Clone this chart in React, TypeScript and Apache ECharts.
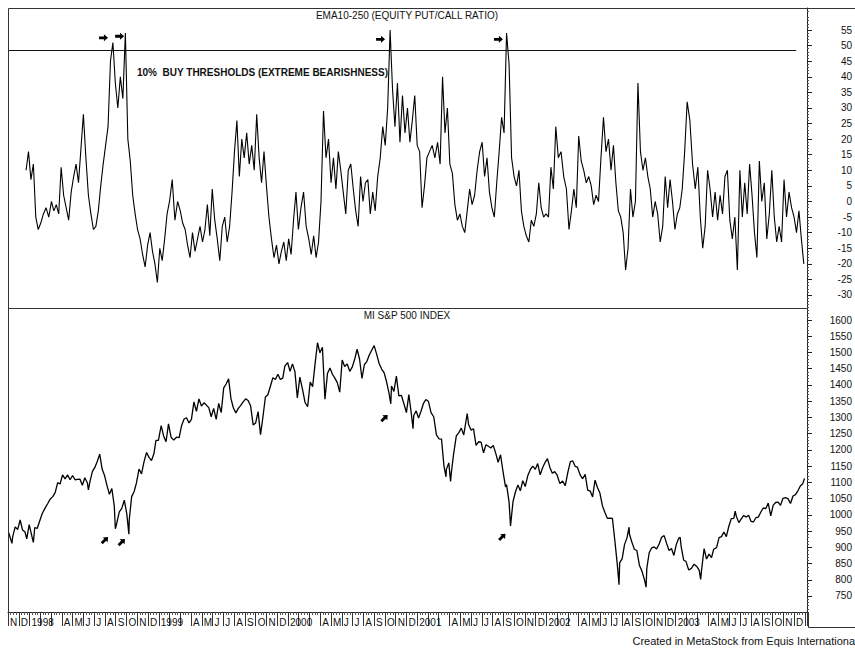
import React, { useEffect, useRef } from "react";
import * as echarts from "echarts";

// ---------- axis / label data ----------
const MONTH_LETTERS = ["J", "F", "M", "A", "M", "J", "J", "A", "S", "O", "N", "D"];
const BASE_YEAR = 1997; // month index 0 = Jan 1997
const X_MIN_MONTH = 10; // Nov 1997
const X_MAX_MONTH = 84.2; // mid Jan 2004
const topTickValues = [-30, -25, -20, -15, -10, -5, 0, 5, 10, 15, 20, 25, 30, 35, 40, 45, 50, 55];
const bottomTickValues = [750, 800, 850, 900, 950, 1000, 1050, 1100, 1150, 1200, 1250, 1300, 1350, 1400, 1450, 1500, 1550, 1600];
const TOP_MIN = -34.17;
const TOP_MAX = 62.06;
const BOT_MIN = 700.7;
const BOT_MAX = 1637;
const BUY_THRESHOLD = 48.5;

// ---------- texts ----------
const topTitle = "EMA10-250 (EQUITY PUT/CALL RATIO)";
const thresholdText = "10%  BUY THRESHOLDS (EXTREME BEARISHNESS)";
const bottomTitle = "MI S&P 500 INDEX";
const creditText = "Created in MetaStock from Equis Internationa";

// ---------- EMA10-250 put/call indicator, weekly readings from 1997-12-22 ----------
const pcrStartDate = "1997-12-22";
const pcrWeekly = [
  10, 16, 7, 12, -5, -9, -7, -4, -2, -5, 0, -3, -1, -4, 11, 2,
  -2, -6, 3, 8, 12, 6, 17, 28, 14, 2, -4, -9, -8, -3, 5, 12,
  18, 24, 45, 51, 38, 30, 40, 33, 54, 20, 13, 2, -4, -9, -12, -17,
  -21, -14, -10, -16, -20, -26, -15, -19, -12, -4, 0, 7, -6, 0, -3, -7,
  -9, -14, -18, -10, -16, -12, -8, -13, -9, -1, -11, 4, -6, -12, -19, -8,
  -5, -13, -8, 3, 16, 26, 8, 20, 14, 22, 12, 18, 10, 28, 14, 6,
  16, 5, -5, -12, -18, -14, -20, -16, -13, -19, -12, -17, -6, 3, -9, -2,
  3, -8, -12, -17, -11, -18, -13, 0, 29, 14, 20, 6, 14, 4, 16, 10,
  3, -4, 10, 12, 4, -3, -8, 8, 0, 6, 7, -4, 3, -3, 8, 14,
  24, 18, 30, 55, 36, 24, 38, 19, 34, 22, 30, 19, 26, 34, 18, 16,
  -2, 5, 14, 16, 18, 14, 19, 12, 40, 22, 30, 12, 9, -1, -6, -4,
  -8, -10, -3, 4, -1, 2, 10, 16, 19, 8, 14, 3, -2, -5, 6, 16,
  27, 22, 54, 44, 14, 8, 5, 10, -3, -8, -11, -13, -6, -8, -4, 6,
  -2, -5, -4, -5, 11, 4, 24, 14, 16, 8, 4, -9, -3, 4, -2, 21,
  13, 10, 6, 8, 5, -1, 2, 0, 14, 27, 16, 20, 10, 18, 6, -3,
  -5, -10, -22, -15, 4, -5, 0, 38, 16, 10, 14, 8, 4, -5, 0, -4,
  -13, -8, 8, -2, 7, 0, -9, -4, -2, 4, 16, 32, 26, 12, 4, 11,
  -5, -15, -8, 10, 4, -5, 3, -6, 2, -4, 8, 10, -6, -12, -5, -22,
  10, -5, 6, -4, 12, 2, -10, -18, 13, 0, 6, -12, -4, 10, -5, -13,
  -8, -13, 7, -5, 3, -2, -5, -10, -3, -12, -20,
];

// ---------- S&P 500 index readings [date, value] ----------
const sp1997: [string, number][] = [
  ["1997-11-03", 945], ["1997-11-07", 930], ["1997-11-12", 912], ["1997-11-14", 932], ["1997-11-21", 963], ["1997-11-28", 955],
  ["1997-12-05", 984], ["1997-12-12", 953], ["1997-12-19", 947], ["1997-12-24", 926], ["1997-12-31", 970],
];
const sp1998: [string, number][] = [
  ["1998-01-09", 928], ["1998-01-12", 915], ["1998-01-16", 961], ["1998-01-23", 958], ["1998-01-30", 980],
  ["1998-02-06", 1004], ["1998-02-13", 1020], ["1998-02-20", 1034], ["1998-02-27", 1049],
  ["1998-03-06", 1056], ["1998-03-13", 1069], ["1998-03-20", 1099], ["1998-03-27", 1095],
  ["1998-04-03", 1123], ["1998-04-10", 1111], ["1998-04-17", 1123], ["1998-04-24", 1108],
  ["1998-05-01", 1121], ["1998-05-08", 1108], ["1998-05-15", 1109], ["1998-05-22", 1110], ["1998-05-29", 1091],
  ["1998-06-05", 1114], ["1998-06-12", 1099], ["1998-06-15", 1077], ["1998-06-19", 1101], ["1998-06-26", 1133],
  ["1998-07-03", 1146], ["1998-07-10", 1164], ["1998-07-17", 1187], ["1998-07-24", 1141], ["1998-07-31", 1121],
  ["1998-08-07", 1090], ["1998-08-14", 1063], ["1998-08-21", 1081], ["1998-08-28", 1027], ["1998-08-31", 957],
  ["1998-09-04", 974], ["1998-09-11", 1009], ["1998-09-18", 1020], ["1998-09-25", 1045],
  ["1998-10-02", 1003], ["1998-10-08", 940], ["1998-10-09", 984], ["1998-10-16", 1056], ["1998-10-23", 1071], ["1998-10-30", 1099],
  ["1998-11-06", 1141], ["1998-11-13", 1126], ["1998-11-20", 1164], ["1998-11-27", 1192],
  ["1998-12-04", 1177], ["1998-12-11", 1167], ["1998-12-18", 1188], ["1998-12-24", 1229], ["1998-12-31", 1229],
];
const sp1999: [string, number][] = [
  ["1999-01-08", 1275], ["1999-01-15", 1243], ["1999-01-22", 1225], ["1999-01-29", 1280],
  ["1999-02-05", 1239], ["1999-02-12", 1230], ["1999-02-19", 1239], ["1999-02-26", 1238],
  ["1999-03-05", 1276], ["1999-03-12", 1295], ["1999-03-19", 1299], ["1999-03-26", 1283],
  ["1999-04-02", 1294], ["1999-04-09", 1348], ["1999-04-16", 1319], ["1999-04-23", 1357], ["1999-04-30", 1335],
  ["1999-05-07", 1345], ["1999-05-14", 1338], ["1999-05-21", 1330], ["1999-05-28", 1302],
  ["1999-06-04", 1328], ["1999-06-11", 1294], ["1999-06-18", 1343], ["1999-06-25", 1315],
  ["1999-07-02", 1391], ["1999-07-09", 1403], ["1999-07-16", 1419], ["1999-07-23", 1357], ["1999-07-30", 1329],
  ["1999-08-06", 1314], ["1999-08-13", 1328], ["1999-08-20", 1337], ["1999-08-27", 1348],
  ["1999-09-03", 1357], ["1999-09-10", 1352], ["1999-09-17", 1335], ["1999-09-24", 1277],
  ["1999-10-01", 1283], ["1999-10-08", 1318], ["1999-10-15", 1247], ["1999-10-22", 1302], ["1999-10-29", 1363],
  ["1999-11-05", 1370], ["1999-11-12", 1396], ["1999-11-19", 1422], ["1999-11-26", 1417],
  ["1999-12-03", 1433], ["1999-12-10", 1417], ["1999-12-17", 1421], ["1999-12-23", 1458], ["1999-12-31", 1469],
];
const sp2000: [string, number][] = [
  ["2000-01-07", 1442], ["2000-01-14", 1465], ["2000-01-21", 1441], ["2000-01-28", 1360],
  ["2000-02-04", 1424], ["2000-02-11", 1387], ["2000-02-18", 1346], ["2000-02-25", 1333],
  ["2000-03-03", 1409], ["2000-03-10", 1395], ["2000-03-17", 1465], ["2000-03-24", 1530], ["2000-03-31", 1499],
  ["2000-04-07", 1516], ["2000-04-14", 1356], ["2000-04-21", 1435], ["2000-04-28", 1452],
  ["2000-05-05", 1433], ["2000-05-12", 1421], ["2000-05-19", 1407], ["2000-05-26", 1378],
  ["2000-06-02", 1477], ["2000-06-09", 1457], ["2000-06-16", 1465], ["2000-06-23", 1442], ["2000-06-30", 1455],
  ["2000-07-07", 1479], ["2000-07-14", 1510], ["2000-07-21", 1480], ["2000-07-28", 1420],
  ["2000-08-04", 1463], ["2000-08-11", 1472], ["2000-08-18", 1492], ["2000-08-25", 1507],
  ["2000-09-01", 1521], ["2000-09-08", 1495], ["2000-09-15", 1466], ["2000-09-22", 1449], ["2000-09-29", 1437],
  ["2000-10-06", 1409], ["2000-10-13", 1374], ["2000-10-18", 1342], ["2000-10-20", 1397], ["2000-10-27", 1380],
  ["2000-11-03", 1427], ["2000-11-10", 1366], ["2000-11-17", 1368], ["2000-11-24", 1342],
  ["2000-12-01", 1315], ["2000-12-08", 1370], ["2000-12-15", 1312], ["2000-12-20", 1265], ["2000-12-22", 1306], ["2000-12-29", 1320],
];
const sp2001: [string, number][] = [
  ["2001-01-05", 1298], ["2001-01-12", 1319], ["2001-01-19", 1343], ["2001-01-26", 1355],
  ["2001-02-02", 1350], ["2001-02-09", 1315], ["2001-02-16", 1302], ["2001-02-23", 1246],
  ["2001-03-02", 1234], ["2001-03-09", 1233], ["2001-03-16", 1151], ["2001-03-22", 1117], ["2001-03-23", 1140], ["2001-03-30", 1160],
  ["2001-04-04", 1103], ["2001-04-06", 1128], ["2001-04-12", 1184], ["2001-04-20", 1243], ["2001-04-27", 1253],
  ["2001-05-04", 1267], ["2001-05-11", 1246], ["2001-05-18", 1292], ["2001-05-21", 1312], ["2001-05-25", 1278],
  ["2001-06-01", 1261], ["2001-06-08", 1265], ["2001-06-15", 1214], ["2001-06-22", 1225], ["2001-06-29", 1224],
  ["2001-07-06", 1191], ["2001-07-13", 1216], ["2001-07-20", 1211], ["2001-07-27", 1206],
  ["2001-08-03", 1214], ["2001-08-10", 1190], ["2001-08-17", 1162], ["2001-08-24", 1185], ["2001-08-31", 1134],
  ["2001-09-07", 1086], ["2001-09-10", 1093], ["2001-09-17", 1039], ["2001-09-21", 966], ["2001-09-28", 1041],
  ["2001-10-05", 1071], ["2001-10-12", 1092], ["2001-10-19", 1074], ["2001-10-26", 1105],
  ["2001-11-02", 1087], ["2001-11-09", 1120], ["2001-11-16", 1139], ["2001-11-23", 1150], ["2001-11-30", 1140],
  ["2001-12-07", 1158], ["2001-12-14", 1123], ["2001-12-21", 1145], ["2001-12-28", 1161],
];
const sp2002: [string, number][] = [
  ["2002-01-04", 1173], ["2002-01-11", 1146], ["2002-01-18", 1128], ["2002-01-25", 1133],
  ["2002-02-01", 1122], ["2002-02-08", 1096], ["2002-02-15", 1104], ["2002-02-22", 1090],
  ["2002-03-01", 1132], ["2002-03-08", 1164], ["2002-03-15", 1166], ["2002-03-22", 1149], ["2002-03-28", 1147],
  ["2002-04-05", 1123], ["2002-04-12", 1111], ["2002-04-19", 1125], ["2002-04-26", 1076],
  ["2002-05-03", 1073], ["2002-05-10", 1055], ["2002-05-17", 1107], ["2002-05-24", 1084], ["2002-05-31", 1067],
  ["2002-06-07", 1028], ["2002-06-14", 1007], ["2002-06-21", 989], ["2002-06-28", 990],
  ["2002-07-05", 989], ["2002-07-12", 921], ["2002-07-19", 848], ["2002-07-23", 798], ["2002-07-24", 785], ["2002-07-26", 853],
  ["2002-08-02", 864], ["2002-08-09", 909], ["2002-08-16", 929], ["2002-08-22", 962], ["2002-08-23", 941], ["2002-08-30", 916],
  ["2002-09-06", 894], ["2002-09-13", 890], ["2002-09-20", 845], ["2002-09-27", 827],
  ["2002-10-04", 801], ["2002-10-09", 777], ["2002-10-11", 835], ["2002-10-18", 884], ["2002-10-25", 898],
  ["2002-11-01", 901], ["2002-11-08", 895], ["2002-11-15", 910], ["2002-11-22", 931], ["2002-11-29", 936],
  ["2002-12-06", 912], ["2002-12-13", 890], ["2002-12-20", 896], ["2002-12-27", 875],
];
const sp2003: [string, number][] = [
  ["2003-01-03", 909], ["2003-01-10", 928], ["2003-01-14", 931], ["2003-01-17", 902], ["2003-01-24", 861], ["2003-01-31", 856],
  ["2003-02-07", 830], ["2003-02-14", 835], ["2003-02-21", 848], ["2003-02-28", 841],
  ["2003-03-07", 829], ["2003-03-11", 801], ["2003-03-14", 833], ["2003-03-21", 896], ["2003-03-28", 864],
  ["2003-04-04", 879], ["2003-04-11", 868], ["2003-04-17", 894], ["2003-04-25", 899],
  ["2003-05-02", 930], ["2003-05-09", 933], ["2003-05-16", 947], ["2003-05-23", 933], ["2003-05-30", 964],
  ["2003-06-06", 988], ["2003-06-13", 989], ["2003-06-17", 1011], ["2003-06-20", 996], ["2003-06-27", 976],
  ["2003-07-03", 986], ["2003-07-11", 998], ["2003-07-18", 993], ["2003-07-25", 999],
  ["2003-08-01", 980], ["2003-08-08", 978], ["2003-08-15", 991], ["2003-08-22", 993], ["2003-08-29", 1008],
  ["2003-09-05", 1021], ["2003-09-12", 1019], ["2003-09-19", 1036], ["2003-09-26", 997],
  ["2003-10-03", 1030], ["2003-10-10", 1038], ["2003-10-17", 1039], ["2003-10-24", 1029], ["2003-10-31", 1051],
  ["2003-11-07", 1053], ["2003-11-14", 1050], ["2003-11-21", 1035], ["2003-11-28", 1058],
  ["2003-12-05", 1062], ["2003-12-12", 1074], ["2003-12-19", 1089], ["2003-12-26", 1096], ["2003-12-31", 1112],
];

// ---------- annotation arrows [date, value] ----------
const topArrowPoints: [string, number][] = [
  ["1998-07-28", 52.5], ["1998-09-12", 53], ["2000-09-19", 52], ["2001-08-18", 52],
];
const bottomArrowPoints: [string, number][] = [
  ["1998-08-01", 922], ["1998-09-18", 916], ["2000-09-30", 1298], ["2001-08-29", 932],
];

// ---------- helpers ----------
function monthIndexUTC(d: Date): number {
  const y = d.getUTCFullYear();
  const mo = d.getUTCMonth();
  const day = d.getUTCDate();
  const dim = new Date(Date.UTC(y, mo + 1, 0)).getUTCDate();
  return (y - BASE_YEAR) * 12 + mo + (day - 1) / dim;
}
function parseDate(s: string): Date {
  const [y, m, d] = s.split("-").map(Number);
  return new Date(Date.UTC(y, m - 1, d));
}
function monthIndex(s: string): number {
  return monthIndexUTC(parseDate(s));
}

const FONT = "'Liberation Sans', Arial, Helvetica, sans-serif";
const ARROW_PATH = "path://M0,3L6,3L6,0L11,5L6,10L6,7L0,7Z";

export default function App() {
  const ref = useRef<HTMLDivElement>(null);

  useEffect(() => {
    if (!ref.current) return;
    const chart = echarts.init(ref.current, null, { renderer: "svg" });

    const DAY = 86400000;
    const start = parseDate(pcrStartDate).getTime();
    const pcrData = pcrWeekly.map((v, i) => [monthIndexUTC(new Date(start + i * 7 * DAY)), v]);
    const spAll = [...sp1997, ...sp1998, ...sp1999, ...sp2000, ...sp2001, ...sp2002, ...sp2003];
    const spData = spAll.map(([d, v]) => [monthIndex(d), v]);

    const topMinor: number[] = [];
    for (let v = -34; v <= 62; v += 1) if (v % 5 !== 0) topMinor.push(v);
    const botMinor: number[] = [];
    for (let v = 710; v <= 1630; v += 10) if (v % 50 !== 0) botMinor.push(v);

    const axisColor = "#222";
    const labelStyle = { fontSize: 10, color: "#111", fontFamily: FONT };
    const plainNumber = (v: number) => String(Math.round(v));

    const xLabelFormatter = (val: number) => {
      const r = Math.round(val);
      if (Math.abs(val - r) > 0.01) return "";
      if (r >= 84) return "";
      const mi = ((r % 12) + 12) % 12;
      if (mi === 0) return String(BASE_YEAR + r / 12);
      if (mi === 1 || mi === 2) return "";
      return MONTH_LETTERS[mi];
    };

    const line = (x1: number, y1: number, x2: number, y2: number, color = "#333") => ({
      type: "line",
      silent: true,
      shape: { x1, y1, x2, y2 },
      style: { stroke: color, lineWidth: 1 },
      z: 10,
    });

    const option: any = {
      animation: false,
      backgroundColor: "#ffffff",
      grid: [
        { left: 8, top: 8, width: 800, height: 300 },
        { left: 8, top: 308, width: 800, height: 304 },
      ],
      xAxis: [
        { type: "value", gridIndex: 0, min: X_MIN_MONTH, max: X_MAX_MONTH, show: false },
        {
          type: "value",
          gridIndex: 1,
          min: X_MIN_MONTH,
          max: X_MAX_MONTH,
          interval: 1,
          axisLine: { show: true, onZero: false, lineStyle: { color: axisColor, width: 1 } },
          axisTick: { show: true, length: 14, lineStyle: { color: "#333", width: 1 } },
          minorTick: { show: true, splitNumber: 4, length: 3, lineStyle: { color: "#555" } },
          axisLabel: {
            ...labelStyle,
            fontSize: 10,
            formatter: xLabelFormatter,
            align: "left",
            padding: [0, 0, 0, 2],
            margin: 5,
            showMaxLabel: false,
          },
          splitLine: { show: false },
        },
      ],
      yAxis: [
        {
          type: "value",
          gridIndex: 0,
          position: "right",
          min: TOP_MIN,
          max: TOP_MAX,
          axisLine: { show: true, onZero: false, lineStyle: { color: axisColor, width: 1 } },
          axisTick: { show: true, length: 5, customValues: topTickValues, lineStyle: { color: axisColor } },
          axisLabel: { ...labelStyle, customValues: topTickValues, formatter: plainNumber, align: "right", margin: 45 },
          splitLine: { show: false },
        },
        {
          type: "value",
          gridIndex: 0,
          position: "right",
          min: TOP_MIN,
          max: TOP_MAX,
          axisLine: { show: false },
          axisTick: { show: true, length: 2, customValues: topMinor, lineStyle: { color: "#555" } },
          axisLabel: { show: false },
          splitLine: { show: false },
        },
        {
          type: "value",
          gridIndex: 1,
          position: "right",
          min: BOT_MIN,
          max: BOT_MAX,
          axisLine: { show: true, onZero: false, lineStyle: { color: axisColor, width: 1 } },
          axisTick: { show: true, length: 5, customValues: bottomTickValues, lineStyle: { color: axisColor } },
          axisLabel: { ...labelStyle, customValues: bottomTickValues, formatter: plainNumber, align: "right", margin: 45 },
          splitLine: { show: false },
        },
        {
          type: "value",
          gridIndex: 1,
          position: "right",
          min: BOT_MIN,
          max: BOT_MAX,
          axisLine: { show: false },
          axisTick: { show: true, length: 2, customValues: botMinor, lineStyle: { color: "#555" } },
          axisLabel: { show: false },
          splitLine: { show: false },
        },
      ],
      series: [
        {
          type: "line",
          xAxisIndex: 0,
          yAxisIndex: 0,
          data: pcrData,
          symbol: "none",
          showSymbol: false,
          lineStyle: { color: "#000", width: 1.1 },
          markLine: {
            silent: true,
            symbol: "none",
            label: { show: false },
            lineStyle: { color: "#111", width: 1, type: "solid" },
            data: [[{ coord: [X_MIN_MONTH, BUY_THRESHOLD] }, { coord: [83.2, BUY_THRESHOLD] }]],
          },
          markPoint: {
            silent: true,
            symbol: ARROW_PATH,
            symbolSize: [9, 7],
            itemStyle: { color: "#000" },
            label: { show: false },
            data: topArrowPoints.map(([d, v]) => ({ coord: [monthIndex(d), v] })),
          },
        },
        {
          type: "line",
          xAxisIndex: 1,
          yAxisIndex: 2,
          data: spData,
          symbol: "none",
          showSymbol: false,
          lineStyle: { color: "#000", width: 1.3 },
          markPoint: {
            silent: true,
            symbol: ARROW_PATH,
            symbolSize: [9, 7],
            symbolRotate: 45,
            itemStyle: { color: "#000" },
            label: { show: false },
            data: bottomArrowPoints.map(([d, v]) => ({ coord: [monthIndex(d), v] })),
          },
        },
      ],
      graphic: [
        line(8.5, 8.5, 855, 8.5),
        line(8.5, 8.5, 8.5, 612),
        line(8.5, 308.5, 808, 308.5),
        line(808.5, 612, 808.5, 627.5),
        line(808.5, 627.5, 855, 627.5),
        {
          type: "text",
          x: 407,
          y: 15,
          silent: true,
          style: { text: topTitle, fontSize: 10, fontFamily: FONT, fill: "#111", align: "center", verticalAlign: "middle" },
        },
        {
          type: "text",
          x: 137,
          y: 72,
          silent: true,
          style: { text: thresholdText, fontSize: 10, fontWeight: "bold", fontFamily: FONT, fill: "#111", align: "left", verticalAlign: "middle" },
        },
        {
          type: "text",
          x: 407,
          y: 315,
          silent: true,
          style: { text: bottomTitle, fontSize: 10, fontFamily: FONT, fill: "#111", align: "center", verticalAlign: "middle" },
        },
        {
          type: "text",
          x: 855,
          y: 641,
          silent: true,
          style: { text: creditText, fontSize: 11, fontFamily: FONT, fill: "#111", align: "right", verticalAlign: "middle" },
        },
      ],
    };

    chart.setOption(option);
    return () => chart.dispose();
  }, []);

  return (
    <div
      ref={ref}
      style={{ position: "fixed", left: 0, top: 0, width: 855, height: 650, background: "#fff" }}
    />
  );
}
